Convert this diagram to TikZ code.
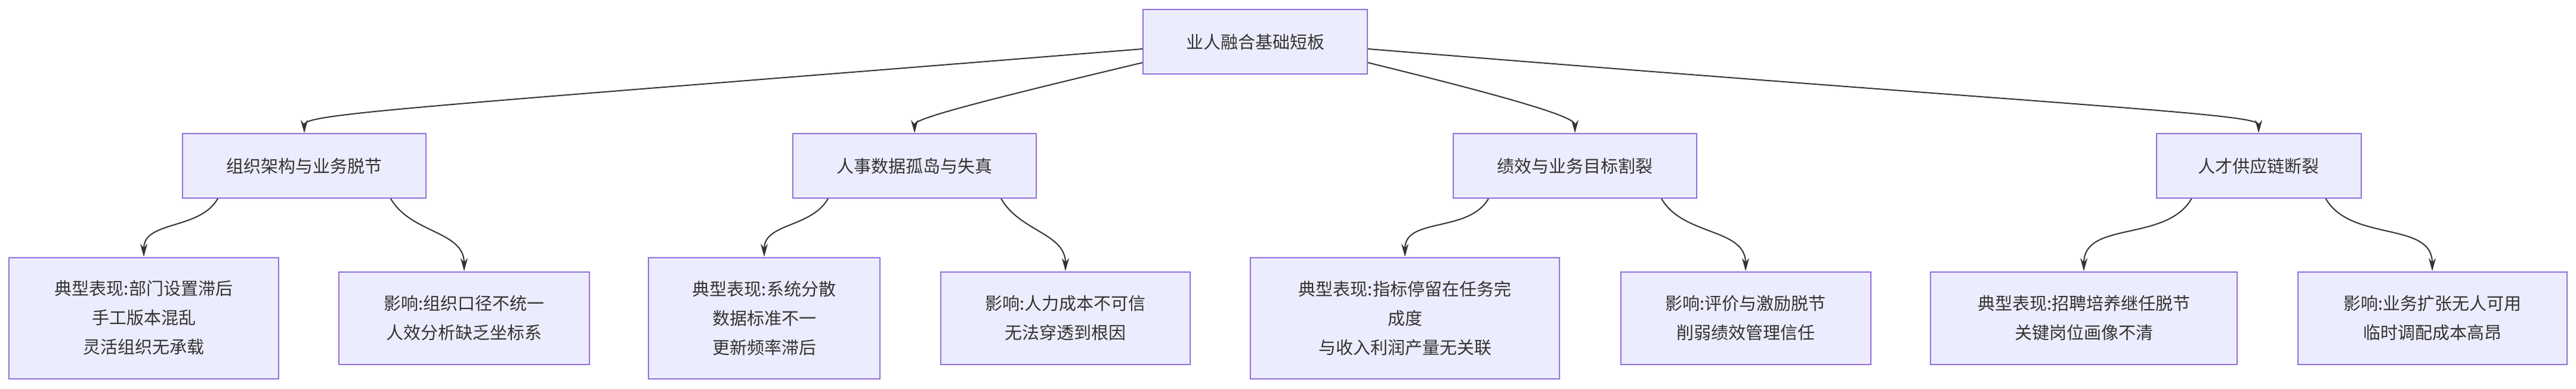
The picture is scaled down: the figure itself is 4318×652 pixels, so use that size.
\documentclass[tikz,border=0pt]{standalone}
\usepackage{fontspec}
\setmainfont{Noto Sans CJK SC}
\usetikzlibrary{positioning,arrows.meta}
\definecolor{boxfill}{HTML}{ECECFF}
\definecolor{boxline}{HTML}{9370DB}
\definecolor{edge}{HTML}{333333}
\begin{document}
\begin{tikzpicture}[
x=1pt,y=-1pt,
box/.style={
  draw=boxline,
  fill=boxfill,
  line width=2pt,
  align=center,
  font=\fontsize{29}{49}\selectfont,
  text=edge,
  inner sep=0pt
  },
link/.style={
  draw=edge,
  line width=2pt,
  -{Stealth[length=22pt,width=12pt]}
  },
>=latex
]
\useasboundingbox (0,0) rectangle (4318,652);

\node[box,minimum width=376,minimum height=108] (root) at (2104,70) {业人融合基础短板};

\node[box,minimum width=408,minimum height=108] (org) at (510,278) {组织架构与业务脱节};
\node[box,minimum width=408,minimum height=108] (data) at (1533,278) {人事数据孤岛与失真};
\node[box,minimum width=408,minimum height=108] (perf) at (2640,278) {绩效与业务目标割裂};
\node[box,minimum width=343,minimum height=108] (tal) at (3786,278) {人才供应链断裂};

\node[box,minimum width=452,minimum height=203] (orgA) at (241,533) {典型表现:部门设置滞后\\手工版本混乱\\灵活组织无承载};
\node[box,minimum width=420,minimum height=155] (orgB) at (778,533) {影响:组织口径不统一\\人效分析缺乏坐标系};
\node[box,minimum width=388,minimum height=203] (dataA) at (1281,533) {典型表现:系统分散\\数据标准不一\\更新频率滞后};
\node[box,minimum width=418,minimum height=155] (dataB) at (1786,533) {影响:人力成本不可信\\无法穿透到根因};
\node[box,minimum width=518,minimum height=203] (perfA) at (2355,533) {典型表现:指标停留在任务完\\成度\\与收入利润产量无关联};
\node[box,minimum width=419,minimum height=155] (perfB) at (2926,533) {影响:评价与激励脱节\\削弱绩效管理信任};
\node[box,minimum width=514,minimum height=155] (talA) at (3493,533) {典型表现:招聘培养继任脱节\\关键岗位画像不清};
\node[box,minimum width=451,minimum height=155] (talB) at (4077,533) {影响:业务扩张无人可用\\临时调配成本高昂};

% top level
\draw[link] (root.west) ++(0,12) coordinate (r1) (r1) .. controls (700,180) and (510,190) .. (org.north);
\draw[link] (root.south west) ++(0,-20) coordinate (r2) (r2) .. controls (1600,180) and (1533,200) .. (data.north);
\draw[link] (root.south east) ++(0,-20) coordinate (r3) (r3) .. controls (2600,180) and (2640,200) .. (perf.north);
\draw[link] (root.east) ++(0,12) coordinate (r4) (r4) .. controls (3500,180) and (3786,190) .. (tal.north);

% second level
\foreach \pa/\lft/\rgt in {org/orgA/orgB,data/dataA/dataB,perf/perfA/perfB,tal/talA/talB}
{
  \draw[link] (\pa.south west) ++(60,0) coordinate (a) (a) to[out=-120,in=90] (\lft.north);
  \draw[link] (\pa.south east) ++(-60,0) coordinate (b) (b) to[out=-60,in=90] (\rgt.north);
}
\end{tikzpicture}
\end{document}
